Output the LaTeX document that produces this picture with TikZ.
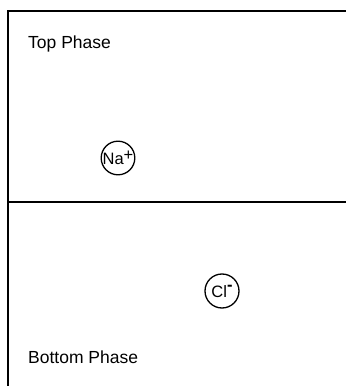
\documentclass[tikz,border=0pt]{standalone}
\usepackage{fontspec}
\setmainfont{Liberation Sans}
\begin{document}
\begin{tikzpicture}[x=1pt,y=1pt,
  boundary/.style={line width=1.6pt,black},
  ion/.style={circle,draw,line width=1.3pt,minimum size=33pt,inner sep=0pt,font=\fontsize{16.5}{19}\selectfont},
  phaselabel/.style={anchor=west,inner sep=0pt,font=\fontsize{17.5}{20}\selectfont}]
\useasboundingbox (0,0) rectangle (346,386);
\coordinate (tl) at (8,375);
\coordinate (tr) at (346,375);
\coordinate (bl) at (8,0);
\coordinate (ml) at (8,184);
\coordinate (mr) at (346,184);
\draw[boundary] (bl) -- (tl) -- (tr);
\draw[boundary] (ml) -- (mr);
\node[phaselabel] (top) at (28,342) {Top Phase};
\node[phaselabel] (bottom) at (28,29) {Bottom Phase};
\node[ion] (na) at (118,228) {Na\raisebox{0.45ex}{+}};
\node[ion,minimum size=34pt] (cl) at (222,95) {Cl\raisebox{0.8ex}{\textbf{-}}};
\end{tikzpicture}
\end{document}
